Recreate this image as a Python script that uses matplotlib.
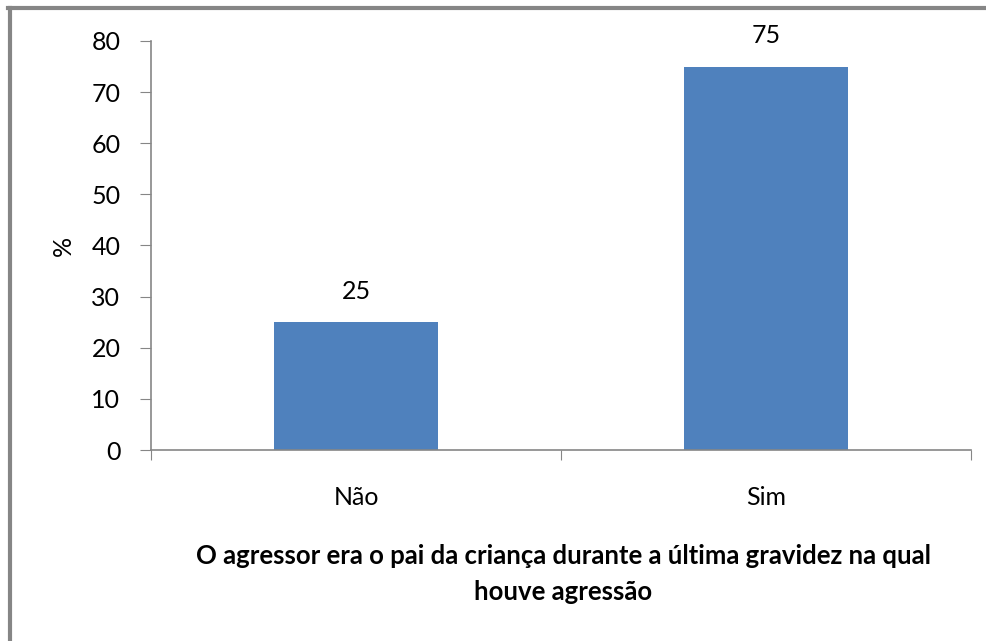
import matplotlib.pyplot as plt
from matplotlib.lines import Line2D

categories = ["Não", "Sim"]
values = [25, 75]
y_ticks = [0, 10, 20, 30, 40, 50, 60, 70, 80]

plt.rcParams["font.family"] = ["Lato", "DejaVu Sans"]

W, H = 987, 641
fig = plt.figure(figsize=(W / 100, H / 100), dpi=100)
ax = fig.add_axes([151 / W, 1 - 450 / H, (971 - 151) / W, (450 - 41) / H])

gray = "#868686"
ax.bar(range(len(categories)), values, width=0.4, color="#4f81bd")
for i, v in enumerate(values):
    ax.annotate(str(v), (i, v), xytext=(0, 14), textcoords="offset points",
                ha="center", va="bottom", fontsize=18)

ax.set_xlim(-0.5, len(categories) - 0.5)
ax.set_ylim(0, 80)
ax.set_yticks(y_ticks)
ax.set_xticks([-0.5, 0.5, 1.5])
ax.set_xticklabels([])
ax.set_xticks(range(len(categories)), minor=True)
ax.set_xticklabels(categories, minor=True, fontsize=18)
ax.tick_params(axis="x", which="minor", length=0, pad=26)
ax.tick_params(axis="x", which="major", length=7, color=gray, direction="out")
ax.tick_params(axis="y", length=8, color=gray, labelsize=18, pad=14)

for s in ["top", "right"]:
    ax.spines[s].set_visible(False)
for s in ["left", "bottom"]:
    ax.spines[s].set_color(gray)
    ax.spines[s].set_linewidth(1.2)

ax.set_ylabel("%", fontsize=18, labelpad=12)
fig.text(563 / W, 1 - 574 / H,
         "O agressor era o pai da criança durante a última gravidez na qual\nhouve agressão",
         ha="center", va="center", fontsize=18.5, fontweight="bold", linespacing=1.55)

# moldura (só esquerda e topo)
fig.add_artist(Line2D([9.5 / W, 9.5 / W], [0, 1 - 7.5 / H], color=gray, lw=3,
                      transform=fig.transFigure))
fig.add_artist(Line2D([8 / W, 1], [1 - 7.5 / H, 1 - 7.5 / H], color=gray, lw=3,
                      transform=fig.transFigure))

fig.savefig("out.png", dpi=100)
